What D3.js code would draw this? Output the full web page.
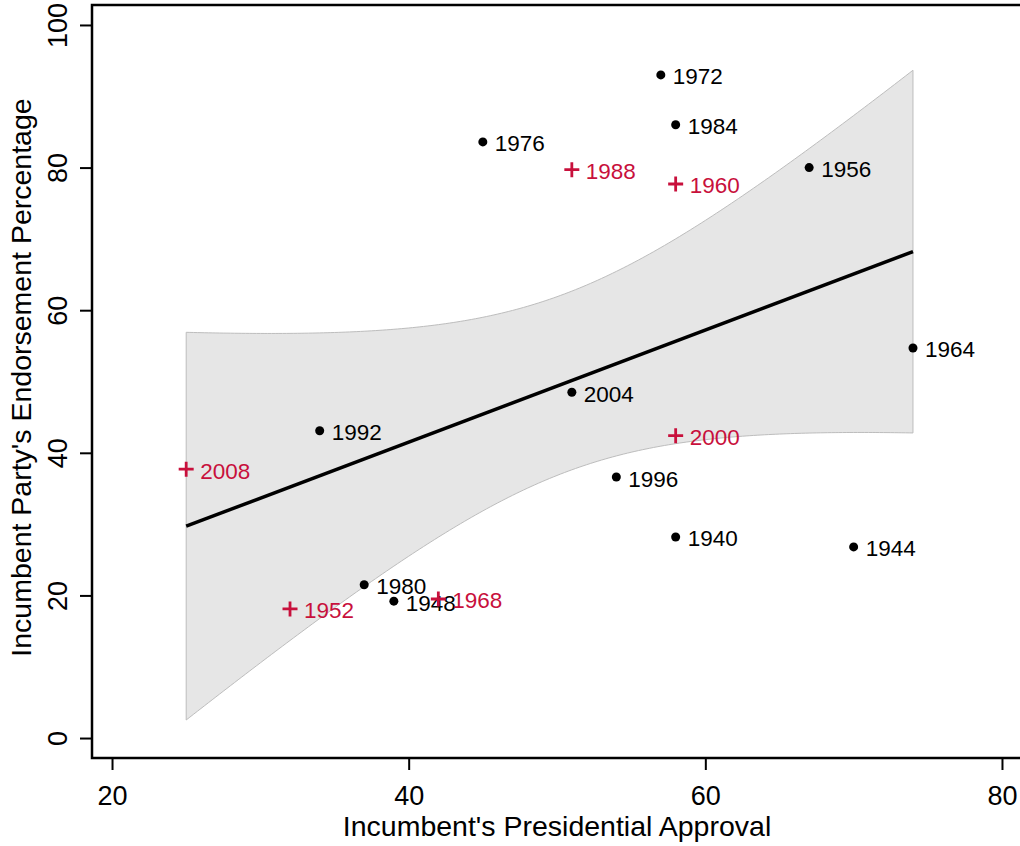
<!DOCTYPE html>
<html>
<head>
<meta charset="utf-8">
<style>
    body { margin: 0; background: #fff; }
    svg { font-family: 'Liberation Sans', Arial, sans-serif; }
    .axis text { font-size: 27px; fill: #000; }
    .axis line { stroke: #000; stroke-width: 2px; }
    .title { font-size: 28.5px; fill: #000; }
    .lbl { font-size: 22.5px; }
    .band { fill: #e6e6e6; stroke: #bdbdbd; stroke-width: 1px; }
    .fit { fill: none; stroke: #000; stroke-width: 3.5px; }
    .frame { fill: none; stroke: #000; stroke-width: 2.5px; }
</style>
</head>
<body>
<svg id="chart" width="1020" height="846"></svg>
<script src="https://cdnjs.cloudflare.com/ajax/libs/d3/7.8.5/d3.min.js"></script>
<script>
    // election years and the two measures
    var years       = [1940, 1944, 1948, 1952, 1956, 1960, 1964, 1968, 1972, 1976, 1980, 1984, 1988, 1992, 1996, 2000, 2004, 2008];
    var approval    = [58,   70,   39,   32,   67,   58,   74,   42,   57,   45,   37,   58,   51,   34,   54,   58,   51,   25];
    var endorsement = [28.2, 26.8, 19.2, 18.1, 80.0, 77.7, 54.7, 19.5, 93.0, 83.6, 21.5, 86.0, 79.7, 43.1, 36.6, 42.4, 48.5, 37.7];
    // red "+" marks vs black dots
    var marker      = ['dot','dot','dot','plus','dot','plus','dot','plus','dot','dot','dot','dot','plus','dot','dot','plus','dot','plus'];

    var xTicks = [20, 40, 60, 80];
    var yTicks = [0, 20, 40, 60, 80, 100];
    var red = '#c8103c';

    var plotL = 92, plotR = 1022, plotT = 5, plotB = 758;
    var chart = d3.select('#chart');

    var x = d3.scaleLinear().domain([18.65, 81.35]).range([plotL, plotR]);
    var y = d3.scaleLinear().domain([-2.8, 102.8]).range([plotB, plotT]);

    var pts = years.map(function(yr, i) {
        return {year: yr, x: approval[i], y: endorsement[i], m: marker[i]};
    });

    // -----------------------------------
    // least squares fit with 95% confidence band for the mean
    var n = pts.length;
    var mx = d3.mean(pts, function(d){ return d.x; });
    var my = d3.mean(pts, function(d){ return d.y; });
    var sxx = d3.sum(pts, function(d){ return (d.x - mx) * (d.x - mx); });
    var sxy = d3.sum(pts, function(d){ return (d.x - mx) * (d.y - my); });
    var slope = sxy / sxx;
    var icpt = my - slope * mx;
    var sse = d3.sum(pts, function(d){ var r = d.y - (icpt + slope * d.x); return r * r; });
    var s = Math.sqrt(sse / (n - 2));
    var tq = 2.119905; // qt(0.975, 16)

    var xMin = d3.min(approval), xMax = d3.max(approval);
    var band = d3.range(xMin, xMax + 0.001, 0.25).map(function(v) {
        var fit = icpt + slope * v;
        var se = s * Math.sqrt(1 / n + (v - mx) * (v - mx) / sxx);
        return {x: v, fit: fit, lo: fit - tq * se, hi: fit + tq * se};
    });

    var area = d3.area()
        .x(function(d){ return x(d.x); })
        .y0(function(d){ return y(d.lo); })
        .y1(function(d){ return y(d.hi); });
    chart.append('path').datum(band).attr('class', 'band').attr('d', area);

    var line = d3.line()
        .x(function(d){ return x(d.x); })
        .y(function(d){ return y(d.fit); });
    chart.append('path').datum([band[0], band[band.length - 1]]).attr('class', 'fit').attr('d', line);

    // -----------------------------------
    // points and year labels
    var g = chart.append('g');
    pts.forEach(function(d) {
        var px = x(d.x), py = y(d.y);
        if (d.m === 'dot') {
            g.append('circle').attr('cx', px).attr('cy', py).attr('r', 4.5).attr('fill', '#000');
        } else {
            g.append('path')
                .attr('d', 'M' + (px - 7.5) + ',' + py + 'H' + (px + 7.5) + 'M' + px + ',' + (py - 7.5) + 'V' + (py + 7.5))
                .attr('stroke', red).attr('stroke-width', 2.8);
        }
        g.append('text').attr('class', 'lbl')
            .attr('x', px + (d.m === 'dot' ? 12 : 14))
            .attr('y', py)
            .attr('dy', '0.42em')
            .attr('fill', d.m === 'dot' ? '#000' : red)
            .text(d.year);
    });

    // -----------------------------------
    // axes
    var axX = chart.append('g').attr('class', 'axis')
        .attr('transform', 'translate(0,' + plotB + ')')
        .call(d3.axisBottom(x).tickValues(xTicks).tickSize(12).tickSizeOuter(0));
    axX.select('.domain').remove();
    axX.selectAll('text').attr('y', 47).attr('dy', null);

    var axY = chart.append('g').attr('class', 'axis')
        .attr('transform', 'translate(' + plotL + ',0)')
        .call(d3.axisLeft(y).tickValues(yTicks).tickSize(12).tickSizeOuter(0));
    axY.select('.domain').remove();
    axY.selectAll('text')
        .attr('x', null).attr('dy', null)
        .attr('text-anchor', 'middle')
        .attr('transform', 'translate(-25,0) rotate(-90)');

    chart.append('rect').attr('class', 'frame')
        .attr('x', plotL).attr('y', plotT)
        .attr('width', plotR - plotL).attr('height', plotB - plotT);

    chart.append('text').attr('class', 'title')
        .attr('x', (plotL + plotR) / 2).attr('y', 836)
        .attr('text-anchor', 'middle')
        .text("Incumbent's Presidential Approval");
    chart.append('text').attr('class', 'title')
        .attr('transform', 'translate(31,' + ((plotT + plotB) / 2 - 4) + ') rotate(-90)')
        .attr('text-anchor', 'middle')
        .text("Incumbent Party's Endorsement Percentage");
</script>
</body>
</html>
